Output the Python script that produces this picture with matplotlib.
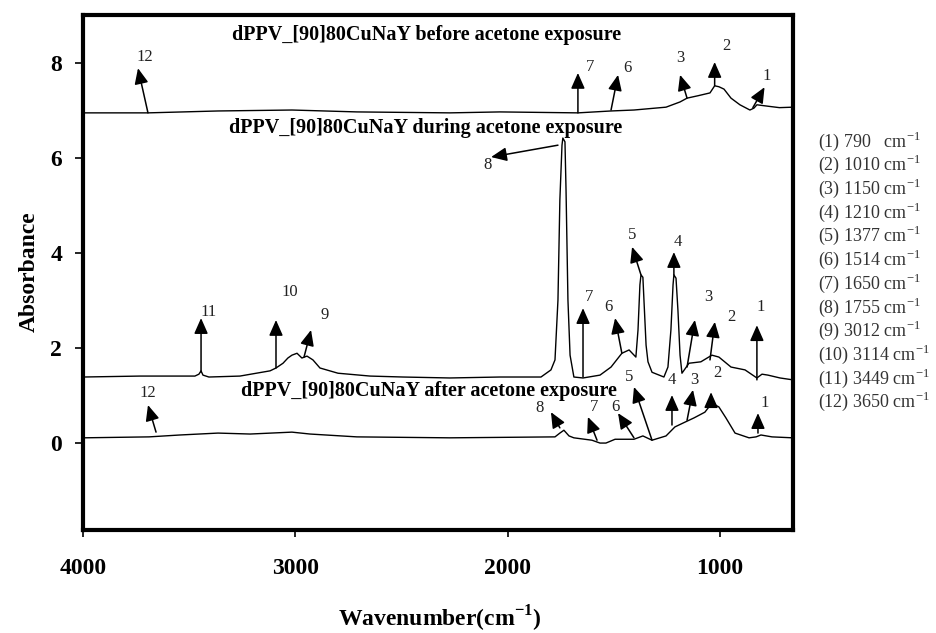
import matplotlib
matplotlib.use("Agg")
import matplotlib.pyplot as plt

plt.rcParams["font.family"] = "Liberation Serif"
plt.rcParams["mathtext.fontset"] = "custom"
plt.rcParams["mathtext.rm"] = "Liberation Serif"
plt.rcParams["mathtext.bf"] = "Liberation Serif:bold"

# spectra (wavenumber, absorbance)
before_wn = [4000, 3694, 3364, 3016, 2710, 2272, 2036, 1669, 1513, 1405, 1254, 1188, 1155, 1104,
             1047, 1025, 1005, 981, 948, 906, 859, 840, 826, 774, 720, 656]
before_abs = [6.95, 6.95, 6.99, 7.01, 6.97, 6.95, 6.97, 6.95, 6.99, 7.01, 7.07, 7.18, 7.26, 7.31,
              7.37, 7.52, 7.50, 7.45, 7.26, 7.12, 7.01, 7.05, 7.12, 7.09, 7.06, 7.07]

during_wn = [4000, 3732, 3473, 3454, 3444, 3435, 3407, 3261, 3119, 3091, 3058, 3035, 3016, 2992,
             2969, 2945, 2917, 2884, 2799, 2648, 2493, 2272, 2036, 1843, 1796, 1777, 1763, 1754,
             1744, 1740, 1730, 1725, 1716, 1706, 1688, 1645, 1565, 1513, 1462, 1428, 1396, 1386,
             1377, 1372, 1363, 1358, 1348, 1339, 1320, 1264, 1245, 1231, 1221, 1217, 1207, 1198,
             1188, 1179, 1146, 1090, 1038, 1005, 948, 882, 826, 802, 774, 717, 656]
during_abs = [1.39, 1.41, 1.41, 1.45, 1.52, 1.43, 1.39, 1.41, 1.52, 1.58, 1.68, 1.79, 1.85, 1.89,
              1.79, 1.83, 1.75, 1.58, 1.47, 1.41, 1.39, 1.37, 1.39, 1.39, 1.54, 1.75, 3.01, 5.12,
              6.27, 6.42, 6.34, 5.33, 3.01, 1.85, 1.39, 1.37, 1.43, 1.60, 1.89, 1.96, 1.81, 2.38,
              3.33, 3.54, 3.49, 3.01, 2.06, 1.71, 1.49, 1.39, 1.60, 2.38, 3.33, 3.54, 3.47, 2.80,
              1.85, 1.47, 1.68, 1.71, 1.85, 1.81, 1.60, 1.54, 1.37, 1.45, 1.43, 1.37, 1.33]

after_wn = [4000, 3689, 3543, 3364, 3213, 3016, 2931, 2710, 2272, 1777, 1754, 1735, 1711, 1688,
            1603, 1565, 1537, 1494, 1405, 1363, 1320, 1254, 1212, 1165, 1122, 1071, 1038, 1005,
            972, 929, 863, 830, 807, 755, 656]
after_abs = [0.11, 0.13, 0.17, 0.21, 0.19, 0.23, 0.19, 0.13, 0.11, 0.13, 0.21, 0.27, 0.15, 0.11,
             0.06, 0.00, 0.00, 0.08, 0.08, 0.15, 0.06, 0.15, 0.34, 0.44, 0.53, 0.65, 0.84, 0.76,
             0.53, 0.21, 0.11, 0.13, 0.17, 0.13, 0.11]

# peak markers: label, arrow tip, arrow base, label position
before_marks = [
    ("12", (3741, 7.89), (3694, 6.95), (3708, 8.13)),
    ("7", (1669, 7.79), (1669, 6.95), (1612, 7.92)),
    ("6", (1480, 7.75), (1513, 7.01), (1438, 7.89)),
    ("3", (1188, 7.75), (1155, 7.26), (1188, 8.11)),
    ("2", (1025, 8.02), (1025, 7.52), (972, 8.36)),
    ("1", (790, 7.49), (845, 7.06), (778, 7.72)),
]
during_marks = [
    ("8", (2078, 6.02), (1763, 6.27), (2093, 5.85)),
    ("11", (3444, 2.63), (3444, 1.49), (3411, 2.76)),
    ("10", (3091, 2.59), (3091, 1.58), (3025, 3.18)),
    ("9", (2926, 2.38), (2959, 1.81), (2860, 2.69)),
    ("7", (1645, 2.84), (1645, 1.39), (1617, 3.07)),
    ("6", (1494, 2.63), (1462, 1.89), (1527, 2.86)),
    ("5", (1414, 4.13), (1372, 3.54), (1414, 4.38)),
    ("4", (1217, 4.02), (1217, 3.54), (1198, 4.23)),
    ("3", (1118, 2.59), (1155, 1.60), (1057, 3.07)),
    ("2", (1024, 2.55), (1047, 1.75), (948, 2.65)),
    ("1", (826, 2.48), (826, 1.33), (807, 2.86)),
]
after_marks = [
    ("12", (3694, 0.80), (3656, 0.23), (3694, 1.05)),
    ("8", (1796, 0.65), (1754, 0.32), (1852, 0.74)),
    ("7", (1622, 0.55), (1579, 0.06), (1594, 0.76)),
    ("6", (1480, 0.63), (1405, 0.11), (1494, 0.76)),
    ("5", (1405, 1.18), (1320, 0.06), (1428, 1.39)),
    ("4", (1226, 1.01), (1226, 0.38), (1226, 1.33)),
    ("3", (1127, 1.12), (1155, 0.48), (1122, 1.33)),
    ("2", (1042, 1.07), (1042, 0.84), (1014, 1.47)),
    ("1", (821, 0.63), (821, 0.21), (788, 0.84)),
]

titles = ["dPPV_[90]80CuNaY before acetone exposure",
          "dPPV_[90]80CuNaY during acetone exposure",
          "dPPV_[90]80CuNaY after acetone exposure"]
title_pos = [(2380, 8.59), (2387, 6.63), (2373, 1.10)]

peak_nums = ["(1)", "(2)", "(3)", "(4)", "(5)", "(6)", "(7)", "(8)", "(9)", "(10)", "(11)", "(12)"]
peak_wn = ["790  ", "1010", "1150", "1210", "1377", "1514", "1650", "1755", "3012", "3114", "3449", "3650"]

fig = plt.figure(figsize=(9.37, 6.33), dpi=100)
ax = fig.add_axes([83 / 937, 1 - 530 / 633, 710 / 937, 515 / 633])

for wn, ab in [(before_wn, before_abs), (during_wn, during_abs), (after_wn, after_abs)]:
    ax.plot(wn, ab, color="black", lw=1.0)

for marks in [before_marks, during_marks, after_marks]:
    for lab, tip, base, lpos in marks:
        ax.annotate("", xy=tip, xytext=base,
                    arrowprops=dict(arrowstyle="-|>,head_length=0.95,head_width=0.42",
                                    color="black", lw=1.1, shrinkA=0, shrinkB=0,
                                    mutation_scale=10))
        ax.text(lpos[0], lpos[1], lab, fontsize=12, ha="center", va="center", color="#222222")

for t, (x, y) in zip(titles, title_pos):
    ax.text(x, y, t, fontsize=14.5, fontweight="bold", ha="center", va="center")

ax.set_xlim(4000, 656)
ax.set_ylim(-1.83, 9.01)
ax.set_xticks([4000, 3000, 2000, 1000])
ax.set_yticks([0, 2, 4, 6, 8])
for s in ax.spines.values():
    s.set_linewidth(3)
ax.tick_params(axis="x", direction="out", length=5, width=1.2, pad=15, labelsize=17)
ax.tick_params(axis="y", direction="out", length=6, width=1.2, pad=9, labelsize=17)
for lab in ax.get_xticklabels() + ax.get_yticklabels():
    lab.set_fontweight("bold")

ax.set_ylabel("Absorbance", fontsize=17, fontweight="bold")
ax.yaxis.set_label_coords(-0.0606, 0.502)
ax.set_xlabel(r"Wavenumber(cm$^{\mathbf{-1}}$)", fontsize=17, fontweight="bold")
ax.xaxis.set_label_coords(0.503, -0.143)

for i, (n, w) in enumerate(zip(peak_nums, peak_wn)):
    fig.text(818 / 937, 1 - (141 + i * 23.7) / 633, n + " " + w + r" cm$^{\mathregular{-1}}$",
             fontsize=13, va="center", ha="left", color="#333333")

fig.savefig("out.png", dpi=100)
